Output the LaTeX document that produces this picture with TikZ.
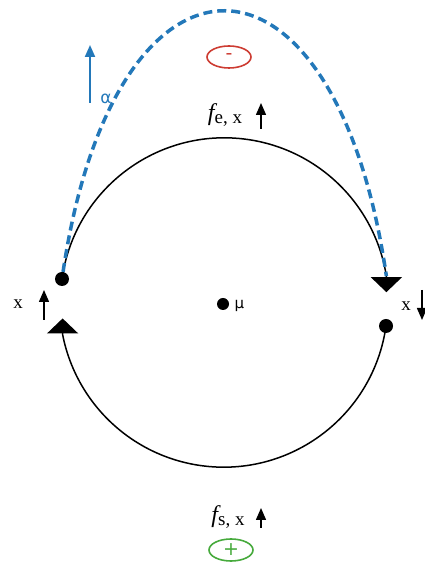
\documentclass[tikz,border=0pt]{standalone}
\usepackage{fontspec}
\setmainfont{Liberation Serif}
\newfontfamily\greekfont{DejaVu Sans}
\usetikzlibrary{arrows.meta,shapes.geometric}
\definecolor{alphablue}{RGB}{35,120,185}
\definecolor{minusred}{RGB}{205,60,50}
\definecolor{plusgreen}{RGB}{70,170,60}

\begin{document}
\begin{tikzpicture}[x=1pt,y=1pt,
  dot/.style={circle, fill=black, inner sep=0pt, minimum size=14pt},
  sign/.style={ellipse, draw, line width=1.6pt, minimum width=44pt, minimum height=22pt, inner sep=0pt, font=\greekfont\fontsize{19}{19}\selectfont},
  lbl/.style={font=\fontsize{19}{21}\selectfont},
  flow/.style={line width=1.5pt, -{Triangle[width=31pt,length=15pt]}},
  small/.style={line width=1.5pt, -{Triangle[width=10pt,length=12pt]}}]

\useasboundingbox (0,0) rectangle (424,567);

% Nodes
\node (mu) [dot, minimum size=12pt] at (223,263) {};
\node (mulabel) [anchor=west, font=\greekfont\fontsize{15}{15}\selectfont] at (231,261) {μ};
\node (left) [dot] at (62,288) {};
\node (right) [dot] at (386,241) {};
\node (xleft) [lbl] at (18,263) {x};
\node (xright) [lbl] at (406,261) {x};
\node (fe) [lbl] at (225,452) {{\fontsize{24}{24}\selectfont\itshape f}\raisebox{-3pt}{e, x}};
\node (fs) [lbl] at (228,50) {{\fontsize{24}{24}\selectfont\itshape f}\raisebox{-3pt}{s, x}};
\node (minus) [sign, draw=minusred, text=minusred] at (229,510) {-};
\node (plus) [sign, draw=plusgreen, text=plusgreen] at (231,17) {+};
\node (alpha) [font=\greekfont\fontsize{17}{17}\selectfont, text=alphablue] at (106,468) {α};

% Coordinates for the small arrows
\coordinate (xl1) at (44,247);
\coordinate (xl2) at (44,277);
\coordinate (xr1) at (422,277);
\coordinate (xr2) at (422,247);
\coordinate (fe1) at (261,438);
\coordinate (fe2) at (261,464);
\coordinate (fs1) at (261,39);
\coordinate (fs2) at (261,59);
\coordinate (a1) at (90,464);
\coordinate (a2) at (90,522);

% Arrows
\draw [flow] (left.center) arc[start angle=172, end angle=9, radius=164pt] coordinate (upend) -- ++(0,-16);
\draw [flow] (right.center) arc[start angle=-8, end angle=-169, radius=164pt] -- ++(0,16);
\draw [alphablue, line width=3.5pt, dash pattern=on 9pt off 5pt] (left) .. controls (115,644) and (335,644) .. (upend);
\draw [small] (xl1) -- (xl2);
\draw [small] (xr1) -- (xr2);
\draw [small] (fe1) -- (fe2);
\draw [small] (fs1) -- (fs2);
\draw [alphablue, line width=2pt, -{Triangle[width=10pt,length=12pt]}] (a1) -- (a2);

\end{tikzpicture}
\end{document}
